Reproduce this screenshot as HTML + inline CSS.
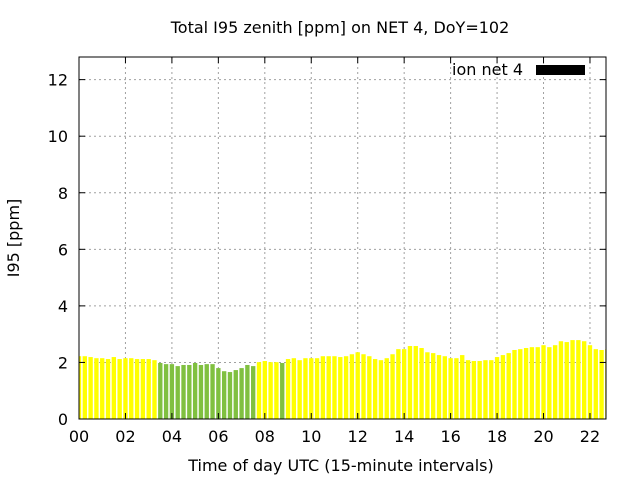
<!DOCTYPE html>
<html><head><meta charset="utf-8"><style>
html,body{margin:0;padding:0;background:#fff}
svg{display:block;font-family:"DejaVu Sans","Liberation Sans",sans-serif}
</style></head><body>
<svg id="chart" width="640" height="480" xmlns="http://www.w3.org/2000/svg">
<rect width="640" height="480" fill="#fff"/>
<text x="340" y="33" font-size="16" text-anchor="middle">Total I95 zenith [ppm] on NET 4, DoY=102</text>
<text x="341" y="471" font-size="16" text-anchor="middle">Time of day UTC (15-minute intervals)</text>
<text transform="translate(19,238) rotate(-90)" font-size="16" text-anchor="middle">I95 [ppm]</text>
<g id="grid"></g><g id="bars"></g><g id="axes"></g>
<text x="523" y="75" font-size="16" text-anchor="end">ion net 4</text>
<rect x="536" y="65" width="49" height="10" fill="#000"/>
</svg>
<script>
const values=[2.22,2.22,2.19,2.15,2.15,2.12,2.19,2.12,2.15,2.15,2.12,2.12,2.12,2.08,1.98,1.94,1.94,1.87,1.91,1.91,1.98,1.91,1.94,1.94,1.80,1.69,1.66,1.73,1.80,1.91,1.87,2.01,2.05,2.01,2.01,1.98,2.12,2.15,2.08,2.15,2.15,2.15,2.22,2.22,2.22,2.19,2.22,2.29,2.36,2.29,2.22,2.12,2.08,2.15,2.29,2.47,2.47,2.58,2.58,2.51,2.36,2.33,2.26,2.22,2.15,2.15,2.26,2.08,2.05,2.05,2.08,2.08,2.19,2.26,2.33,2.44,2.47,2.51,2.54,2.54,2.61,2.54,2.61,2.75,2.72,2.79,2.79,2.75,2.61,2.47,2.44,2.47];
const greenIdx=[14,15,16,17,18,19,20,21,22,23,24,25,26,27,28,29,30,35];
const yTicks=[0,2,4,6,8,10,12];
const xTicks=[0,2,4,6,8,10,12,14,16,18,20,22];
const xTickLabels=["00","02","04","06","08","10","12","14","16","18","20","22"];
const L=79,R=606,T=57,B=419,XMAX=22.69,YMAX=12.8;
const X=h=>L+h/XMAX*(R-L), Y=v=>B-v/YMAX*(B-T);
const NS="http://www.w3.org/2000/svg";
function mk(tag,attrs,parent){const e=document.createElementNS(NS,tag);for(const k in attrs)e.setAttribute(k,attrs[k]);parent.appendChild(e);return e;}
const grid=document.getElementById('grid'),bars=document.getElementById('bars'),axes=document.getElementById('axes');
yTicks.forEach(v=>{
 if(v>0){const g=mk('line',{x1:L,x2:R,y1:Y(v),y2:Y(v),stroke:'#a0a0a0','stroke-dasharray':'2,3'},grid);
 
 }
 const t=mk('line',{x1:L,x2:L+6,y1:Y(v),y2:Y(v),stroke:'#000'},axes);
 
 
 const t2=mk('line',{x1:R,x2:R-6,y1:Y(v),y2:Y(v),stroke:'#000'},axes);
 
 
 const lb=mk('text',{x:L-11,y:Y(v)+6,'font-size':16,'text-anchor':'end'},axes);lb.textContent=v;
 
 
});
xTicks.forEach((h,i)=>{
 if(h>0){const g=mk('line',{x1:X(h),x2:X(h),y1:T,y2:B,stroke:'#a0a0a0','stroke-dasharray':'2,3'},grid);
 
 }
 const t=mk('line',{x1:X(h),x2:X(h),y1:B,y2:B-6,stroke:'#000'},axes);
 
 
 const t2=mk('line',{x1:X(h),x2:X(h),y1:T,y2:T+6,stroke:'#000'},axes);
 
 
 const lb=mk('text',{x:X(h),y:B+23,'font-size':16,'text-anchor':'middle'},axes);lb.textContent=xTickLabels[i];
 
 
});
const bw=0.25*0.75;
values.forEach((v,i)=>{
 const h=i*0.25;let x0=Math.max(L,X(h-bw/2)),x1=Math.min(R,X(h+bw/2));
 const r=mk('rect',{x:x0,y:Y(v),width:Math.max(0,x1-x0),height:B-Y(v),fill:greenIdx.includes(i)?'#80c040':'#ffff00'},bars);
 
 
});
const f=mk('rect',{x:L,y:T,width:R-L,height:B-T,fill:'none',stroke:'#000','stroke-width':1},axes);


</script>
</body></html>
